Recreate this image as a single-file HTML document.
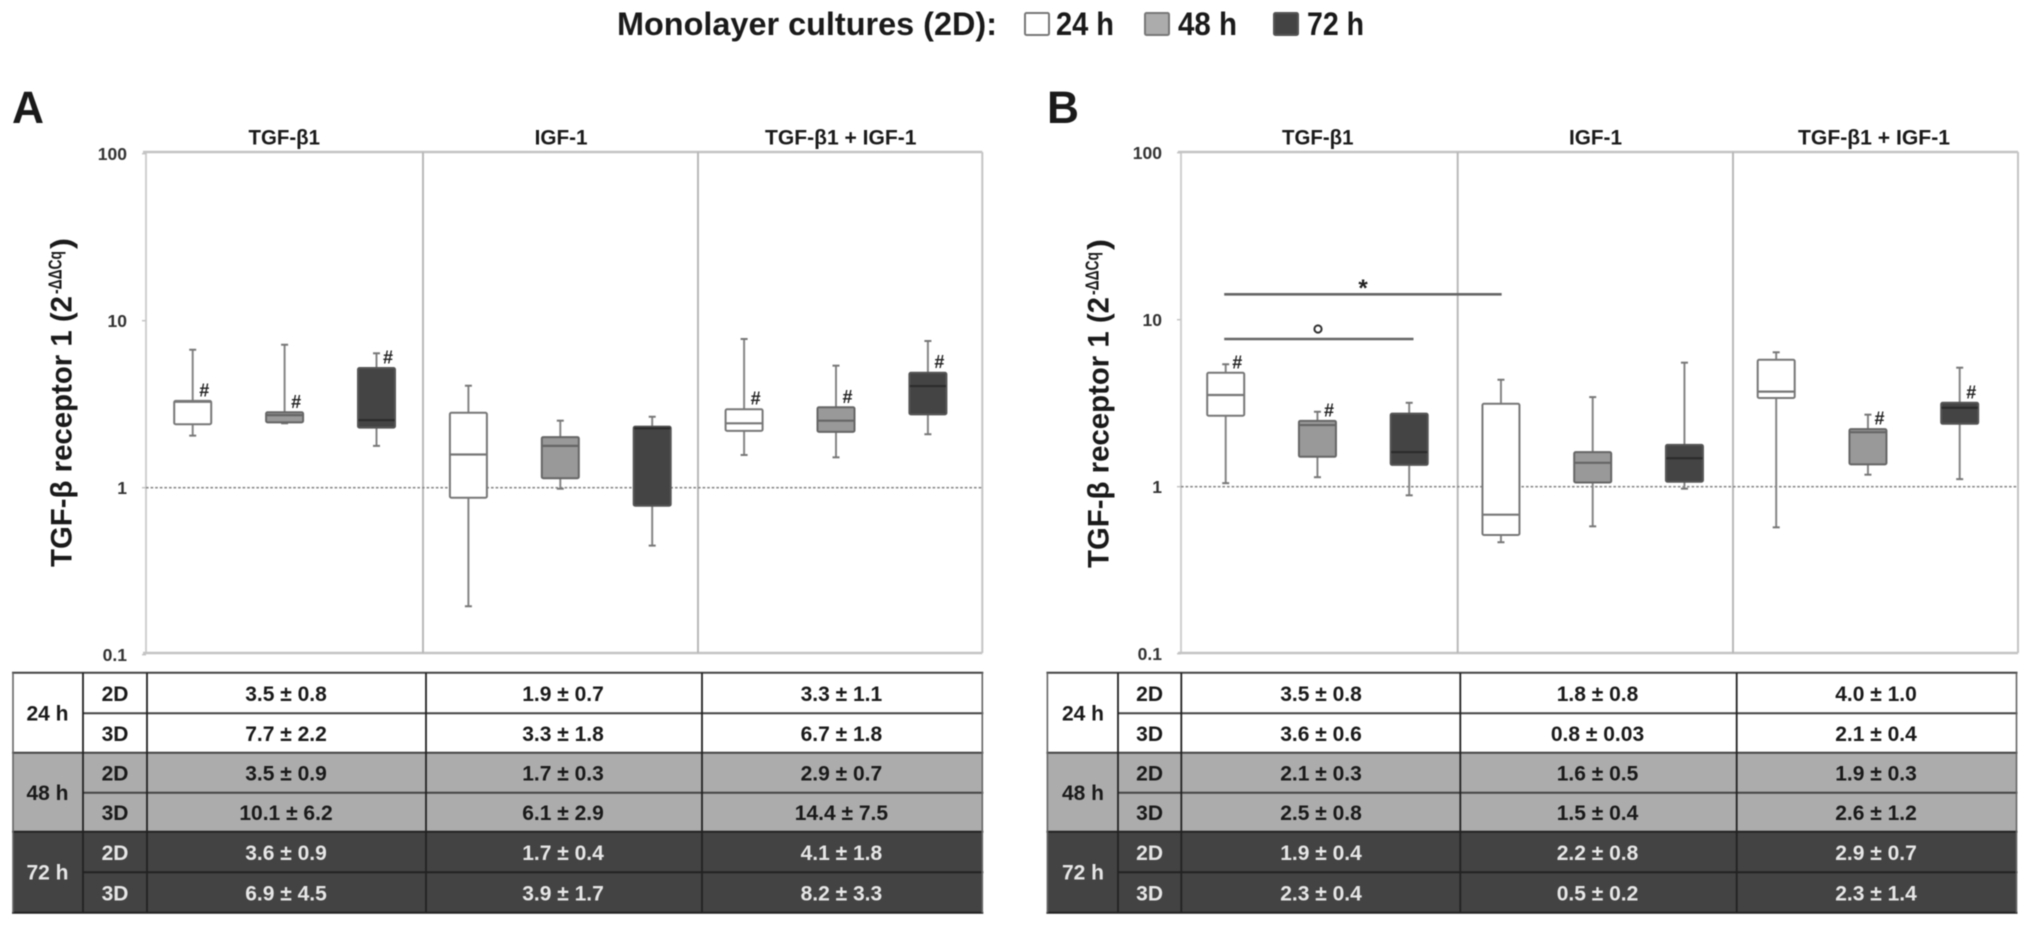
<!DOCTYPE html>
<html lang="en">
<head>
<meta charset="utf-8">
<title>TGF-β receptor 1 expression box plots</title>
<style>
html,body{margin:0;padding:0;background:#fff;}
#figure{display:block;filter:blur(0.5px);fill:#1a1a1a;}
text{font-family:"Liberation Sans",sans-serif;font-weight:bold;}
</style>
</head>
<body>
<svg id="figure" xmlns="http://www.w3.org/2000/svg" width="2031" height="927" viewBox="0 0 2031 927">
  <rect x="0" y="0" width="2031" height="927" fill="#fff"/>
  <g>
    <text x="617" y="35" font-size="32" textLength="380" lengthAdjust="spacingAndGlyphs">Monolayer cultures (2D):</text>
    <rect x="1025" y="13" width="24" height="22" rx="1.5" fill="#fff" stroke="#777" stroke-width="2"/>
    <text x="1056" y="35" font-size="32" textLength="58" lengthAdjust="spacingAndGlyphs">24 h</text>
    <rect x="1145" y="13" width="24" height="22" rx="1.5" fill="#acacac" stroke="#777" stroke-width="2"/>
    <text x="1178" y="35" font-size="32" textLength="59" lengthAdjust="spacingAndGlyphs">48 h</text>
    <rect x="1274" y="13" width="24" height="22" rx="1.5" fill="#444" stroke="#555" stroke-width="2"/>
    <text x="1307" y="35" font-size="32" textLength="57" lengthAdjust="spacingAndGlyphs">72 h</text>
  </g>
  <text x="12" y="123" font-size="45" textLength="32" lengthAdjust="spacingAndGlyphs">A</text>
  <text x="1047" y="123" font-size="45" textLength="32" lengthAdjust="spacingAndGlyphs">B</text>
</svg>
<script>
const categories = ['TGF-β1', 'IGF-1', 'TGF-β1 + IGF-1'];
const timeLabels = ['24 h', '48 h', '72 h'];
const cultureLabels = ['2D', '3D'];
const tickValues = [100, 10, 1, 0.1];
const tickLabels = ['100', '10', '1', '0.1'];

const highA = [6.7, 7.18, 6.38, 4.08, 2.52, 2.66, 7.77, 5.38, 7.56];
const q3A = [3.31, 2.83, 5.21, 2.81, 2.01, 2.32, 2.95, 3.03, 4.88];
const medianA = [3.27, 2.72, 2.54, 1.58, 1.78, 2.27, 2.43, 2.52, 4.06];
const q1A = [2.40, 2.46, 2.29, 0.871, 1.14, 0.78, 2.19, 2.16, 2.75];
const lowA = [2.05, 2.43, 1.78, 0.195, 0.986, 0.45, 1.57, 1.52, 2.09];
const hashA = [1, 1, 1, 0, 0, 0, 1, 1, 1];

const highB = [5.41, 2.81, 3.18, 4.37, 3.44, 5.53, 6.38, 2.70, 5.16];
const q3B = [4.81, 2.48, 2.74, 3.14, 1.61, 1.78, 5.76, 2.21, 3.18];
const medianB = [3.54, 2.34, 1.61, 0.68, 1.39, 1.48, 3.71, 2.12, 2.97];
const q1B = [2.66, 1.51, 1.35, 0.514, 1.06, 1.07, 3.40, 1.36, 2.38];
const lowB = [1.05, 1.14, 0.888, 0.465, 0.579, 0.973, 0.571, 1.18, 1.11];
const hashB = [1, 1, 0, 0, 0, 0, 0, 1, 1];

const tableA = [
  ['3.5 ± 0.8', '1.9 ± 0.7', '3.3 ± 1.1'],
  ['7.7 ± 2.2', '3.3 ± 1.8', '6.7 ± 1.8'],
  ['3.5 ± 0.9', '1.7 ± 0.3', '2.9 ± 0.7'],
  ['10.1 ± 6.2', '6.1 ± 2.9', '14.4 ± 7.5'],
  ['3.6 ± 0.9', '1.7 ± 0.4', '4.1 ± 1.8'],
  ['6.9 ± 4.5', '3.9 ± 1.7', '8.2 ± 3.3']
];
const tableB = [
  ['3.5 ± 0.8', '1.8 ± 0.8', '4.0 ± 1.0'],
  ['3.6 ± 0.6', '0.8 ± 0.03', '2.1 ± 0.4'],
  ['2.1 ± 0.3', '1.6 ± 0.5', '1.9 ± 0.3'],
  ['2.5 ± 0.8', '1.5 ± 0.4', '2.6 ± 1.2'],
  ['1.9 ± 0.4', '2.2 ± 0.8', '2.9 ± 0.7'],
  ['2.3 ± 0.4', '0.5 ± 0.2', '2.3 ± 1.4']
];

const NS = 'http://www.w3.org/2000/svg';
const root = document.getElementById('figure');
const boxFill = ['#ffffff', '#999999', '#444444'];
const boxStroke = ['#777777', '#666666', '#555555'];
const medianStroke = ['#777777', '#666666', '#2c2c2c'];
const sectionFill = ['#ffffff', '#acacac', '#434343'];
const sectionText = ['#1a1a1a', '#1a1a1a', '#e6e6e6'];

function shape(tag, attrs, parent) {
  const el = document.createElementNS(NS, tag);
  for (const k in attrs) el.setAttribute(k, attrs[k]);
  parent.appendChild(el);
  return el;
}
function label(str, attrs, parent) {
  const el = shape('text', attrs, parent);
  el.textContent = str;
  return el;
}
function yScale(panel, v) {
  return panel.y1 - panel.decade * Math.log10(v);
}
function xScale(panel, i) {
  return panel.x0 + i * panel.step;
}

function drawPanel(panel, d) {
  const g = shape('g', {}, root);
  
  

  // frame
  const left = shape('line', {x1: panel.left, x2: panel.left, y1: panel.top, y2: panel.bottom, stroke: '#cfcfcf', 'stroke-width': 2}, g);
  
  
  const right = shape('line', {x1: panel.right, x2: panel.right, y1: panel.top, y2: panel.bottom, stroke: '#c4c4c4', 'stroke-width': 2}, g);
  
  
  const topLine = shape('line', {x1: panel.left - 3, x2: panel.right, y1: panel.top, y2: panel.top, stroke: '#c4c4c4', 'stroke-width': 2.4}, g);
  
  
  const bottomLine = shape('line', {x1: panel.left - 3, x2: panel.right, y1: panel.bottom, y2: panel.bottom, stroke: '#c4c4c4', 'stroke-width': 2.4}, g);
  
  
  panel.dividers.forEach(function (x) {
    const line = shape('line', {x1: x, x2: x, y1: panel.top, y2: panel.bottom, stroke: '#b8b8b8', 'stroke-width': 2}, g);
    
    
  });

  // ticks
  tickValues.forEach(function (v, i) {
    const y = yScale(panel, v);
    const tick = shape('line', {x1: panel.left - 4, x2: panel.left, y1: y, y2: y, stroke: '#c4c4c4', 'stroke-width': 1.5}, g);
    
    
    const t = label(tickLabels[i], {x: panel.left - 19, y: y + 6.2, 'font-size': 17.5, 'text-anchor': 'end', fill: '#333'}, g);
    
    
  });

  // reference line at 1
  const refY = yScale(panel, 1);
  const ref = shape('line', {x1: panel.left, x2: panel.right, y1: refY, y2: refY, stroke: '#8a8a8a', 'stroke-width': 1.6, 'stroke-dasharray': '2.6 2'}, g);
  
  

  // y axis title
  const tx = panel.titleX;
  const main = label('TGF-β receptor 1 (2', {transform: 'translate(' + tx + ',' + panel.titleBottom + ') rotate(-90)', 'font-size': 30, textLength: 271, lengthAdjust: 'spacingAndGlyphs', x: 0, y: 0}, g);
  
  
  const sup = label('-ΔΔCq', {transform: 'translate(' + (tx - 10) + ',' + (panel.titleBottom - 273) + ') rotate(-90)', 'font-size': 18, textLength: 43, lengthAdjust: 'spacingAndGlyphs', x: 0, y: 0}, g);
  
  
  const close = label(')', {transform: 'translate(' + tx + ',' + (panel.titleBottom - 318) + ') rotate(-90)', 'font-size': 30, textLength: 11, lengthAdjust: 'spacingAndGlyphs', x: 0, y: 0}, g);
  
  

  // group headers
  categories.forEach(function (c, i) {
    const h = label(c, {x: panel.headerX[i], y: 144.5, 'font-size': 21.5, textLength: panel.headerW[i], lengthAdjust: 'spacingAndGlyphs'}, g);
    
    
  });

  // boxes
  d.median.forEach(function (m, i) {
    const s = i % 3;
    const cx = xScale(panel, i);
    const yHigh = yScale(panel, d.high[i]);
    const yLow = yScale(panel, d.low[i]);
    const yQ3 = yScale(panel, d.q3[i]);
    const yQ1 = yScale(panel, d.q1[i]);
    const yMed = yScale(panel, m);
    const box = shape('g', {}, g);
    
    

    const wUp = shape('line', {x1: cx, x2: cx, y1: yHigh, y2: yQ3, stroke: '#858585', 'stroke-width': 2}, box);
    
    
    const wDown = shape('line', {x1: cx, x2: cx, y1: yQ1, y2: yLow, stroke: '#858585', 'stroke-width': 2}, box);
    
    
    const capUp = shape('line', {x1: cx - 3.5, x2: cx + 3.5, y1: yHigh, y2: yHigh, stroke: '#777', 'stroke-width': 2}, box);
    
    
    const capDown = shape('line', {x1: cx - 3.5, x2: cx + 3.5, y1: yLow, y2: yLow, stroke: '#777', 'stroke-width': 2}, box);
    
    
    const body = shape('rect', {x: cx - 18.5, y: yQ3, width: 37, height: yQ1 - yQ3, rx: 1.5, fill: boxFill[s], stroke: boxStroke[s], 'stroke-width': 2}, box);
    
    
    const med = shape('line', {x1: cx - 18, x2: cx + 18, y1: yMed, y2: yMed, stroke: medianStroke[s], 'stroke-width': 2.2}, box);
    
    
    if (d.hash[i]) {
      const hash = label('#', {x: cx + 11.5, y: yQ3 - 11 + 6.5, 'font-size': 18, 'text-anchor': 'middle', fill: '#222'}, box);
      
      
    }
  });

  drawTable(panel, d.table);
}

function drawTable(panel, rows) {
  const g = shape('g', {}, root);
  
  
  const ys = panel.rowY;
  const cols = panel.colX;
  const L = cols[0], R = cols[cols.length - 1];

  timeLabels.forEach(function (t, s) {
    const top = ys[s * 2], bot = ys[s * 2 + 2];
    const fill = shape('rect', {x: L, y: top, width: R - L, height: bot - top, fill: sectionFill[s]}, g);
    
    
  });

  ys.forEach(function (y, i) {
    const inner = i % 2 === 1;
    const line = shape('line', {x1: inner ? cols[1] : L - 1, x2: R + 1, y1: y, y2: y, stroke: i > 3 ? '#222' : '#444', 'stroke-width': 2}, g);
    
    
  });
  cols.forEach(function (x, i) {
    const edge = i === 0 || i === cols.length - 1;
    const line = shape('line', {x1: x, x2: x, y1: ys[0], y2: ys[6], stroke: edge ? '#666' : '#222', 'stroke-width': edge ? 1.6 : 1.8}, g);
    
    
  });

  timeLabels.forEach(function (t, s) {
    const cy = ys[s * 2 + 1];
    const lab = label(t, {x: panel.timeX, y: cy + 7.3, 'font-size': 21, 'text-anchor': 'middle', fill: sectionText[s]}, g);
    
    
  });

  rows.forEach(function (row, r) {
    const s = Math.floor(r / 2);
    const cy = (ys[r] + ys[r + 1]) / 2 + 0.5;
    const culture = label(cultureLabels[r % 2], {x: panel.cultureX, y: cy + 7.3, 'font-size': 21, 'text-anchor': 'middle', fill: sectionText[s]}, g);
    
    
    row.forEach(function (val, c) {
      const cell = label(val, {x: panel.cellX[c], y: cy + 7.3, 'font-size': 21, 'text-anchor': 'middle', fill: sectionText[s]}, g);
      
      
    });
  });
}

const sharedRows = [672.8, 713.3, 752.7, 792.7, 831.7, 872.3, 912.7];

drawPanel({
  id: 'a', left: 146, right: 982.3, top: 152, bottom: 653, y1: 487.7, decade: 167,
  x0: 192.7, step: 91.9, dividers: [423, 698],
  titleX: 71.5, titleBottom: 567,
  headerX: [248.5, 534.6, 765], headerW: [71.5, 53, 151.5],
  colX: [13, 83, 147, 426, 702, 982.3], rowY: sharedRows,
  timeX: 47.5, cultureX: 115, cellX: [286, 563, 841.4]
}, {high: highA, q3: q3A, median: medianA, q1: q1A, low: lowA, hash: hashA, table: tableA});

drawPanel({
  id: 'b', left: 1181, right: 2018, top: 152, bottom: 653, y1: 486.7, decade: 167,
  x0: 1225.7, step: 91.75, dividers: [1457.7, 1733],
  titleX: 1108.5, titleBottom: 568,
  headerX: [1282, 1569, 1798], headerW: [71.5, 53, 152],
  colX: [1047.4, 1118, 1181.3, 1460.3, 1736.7, 2016.5], rowY: sharedRows,
  timeX: 1083, cultureX: 1149.6, cellX: [1321, 1597.5, 1876]
}, {high: highB, q3: q3B, median: medianB, q1: q1B, low: lowB, hash: hashB, table: tableB});

// pairwise comparison annotations in panel B
const sigG = shape('g', {}, root);


const panelB = {x0: 1225.7, step: 91.75};
const starLine = shape('line', {x1: xScale(panelB, 0) - 1.5, x2: xScale(panelB, 3) + 0.7, y1: 294.3, y2: 294.3, stroke: '#666', 'stroke-width': 2.6}, sigG);


const circleLine = shape('line', {x1: xScale(panelB, 0) - 1.5, x2: xScale(panelB, 2) + 4.3, y1: 339, y2: 339, stroke: '#666', 'stroke-width': 2.6}, sigG);


const star = label('*', {x: 1363, y: 296, 'font-size': 24, 'text-anchor': 'middle', fill: '#222'}, sigG);


const ring = shape('circle', {cx: 1318, cy: 329, r: 3.6, fill: 'none', stroke: '#333', 'stroke-width': 2}, sigG);


</script>
</body>
</html>
